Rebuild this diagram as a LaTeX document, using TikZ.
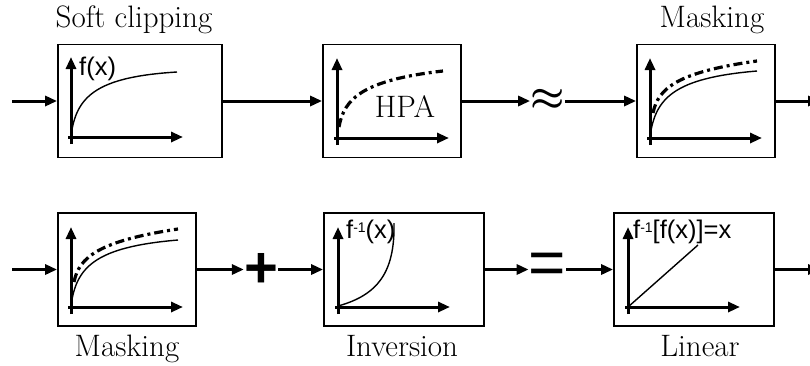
\documentclass[tikz,border=0pt]{standalone}
\usepackage{fontspec}
\usepackage{graphicx}
\newfontfamily\arialfont{Liberation Sans}
\usetikzlibrary{arrows.meta}
\tikzset{
  blockbox/.style={draw, line width=1.8pt, minimum height=113pt, inner sep=0pt},
  conn/.style={line width=3pt, -{Triangle[length=12pt,width=10pt]}},
  axisline/.style={line width=3pt, -{Triangle[length=12pt,width=10pt]}},
  softcurve/.style={line width=1.4pt},
  dashcurve/.style={line width=3.2pt, dash pattern=on 9pt off 4pt on 3pt off 4pt},
  lbl/.style={font=\fontsize{31}{36}\selectfont, anchor=base, inner sep=0pt},
  sanslbl/.style={font=\arialfont\fontsize{25.5}{30}\selectfont, anchor=base west, inner sep=0pt},
  plotaxes/.pic={
    \draw[axisline] (0,7) -- (0,-80);
    \draw[axisline] (-3,0) -- (112,0);
  }
}
\begin{document}
\begin{tikzpicture}[x=1pt,y=-1pt]
\useasboundingbox (0,0) rectangle (810,365);
% ---- top row boxes
\node[blockbox, minimum width=164pt] (b1) at (140,101) {};
\node[blockbox, minimum width=138pt] (b2) at (392,101) {};
\node[blockbox, minimum width=138pt] (b3) at (706,101) {};
% ---- bottom row boxes
\node[blockbox, minimum width=138pt] (b4) at (127,269.5) {};
\node[blockbox, minimum width=160pt] (b5) at (404,269.5) {};
\node[blockbox, minimum width=160pt] (b6) at (694,269.5) {};
% ---- labels
\node[lbl] (l1) at (134,27) {Soft clipping};
\node[lbl] (l3) at (712,27) {Masking};
\node[lbl] (l4) at (127,356) {Masking};
\node[lbl] (l5) at (402,356) {Inversion};
\node[lbl] (l6) at (700,356) {Linear};
\node[lbl] (hpa) at (405,117) {HPA};
% ---- symbols
\node[inner sep=0pt, font=\fontsize{20}{20}\selectfont\boldmath] (approx) at (547.5,100) {\scalebox{1.85}{$\approx$}};
\node[inner sep=0pt, font=\arialfont\bfseries\fontsize{58}{58}\selectfont] (plus) at (261,270) {+};
\node[inner sep=0pt, font=\arialfont\fontsize{64}{64}\selectfont] (eq) at (547.5,269) {=};
\coordinate (in1) at (12,101);
\coordinate (in2) at (12,269.5);
\coordinate (out1) at (820,101);
\coordinate (out2) at (820,269.5);
% ---- connectors
\draw[conn] (in1) -- (b1.west);
\draw[conn] (b1.east) -- (b2.west);
\draw[conn] (b2.east) -- (b2.east -| approx.west);
\draw[conn] (approx.east |- b3.west) -- (b3.west);
\draw[conn] (b3.east) -- (out1);
\draw[conn] (in2) -- (b4.west);
\draw[conn] (b4.east) -- (b4.east -| plus.west);
\draw[conn] (plus.east |- b5.west) -- (b5.west);
\draw[conn] (b5.east) -- (b5.east -| eq.west);
\draw[conn] (eq.east |- b6.west) -- (b6.west);
\draw[conn] (b6.east) -- (out2);
% ---- plots
\pic at (71,137) {plotaxes};
\draw[softcurve] (71,136) .. controls (76,97) and (95,77) .. (177,72);
\node[sanslbl] (fx) at (79,75) {f(x)};

\pic at (337,138) {plotaxes};
\draw[dashcurve] (339,127) .. controls (344,98) and (364,80) .. (443,71);

\pic at (650,138) {plotaxes};
\draw[dashcurve] (653,113) .. controls (658,88) and (678,72) .. (757,61);
\draw[softcurve] (650,137) .. controls (655,98) and (674,78) .. (757,71);

\pic at (71,307) {plotaxes};
\draw[dashcurve] (74,282) .. controls (79,257) and (99,241) .. (178,229);
\draw[softcurve] (71,306) .. controls (76,267) and (95,247) .. (178,240);

\pic at (338,307) {plotaxes};
\draw[softcurve] (338,306) .. controls (378,295) and (395,272) .. (394,223);
\node[sanslbl] (finv) at (346,238) {f\raisebox{6pt}{\fontsize{14}{14}\selectfont -1}(x)};

\pic at (628,307) {plotaxes};
\draw[softcurve] (628,307) -- (698,245);
\node[sanslbl] (flin) at (633,238) {f\raisebox{6pt}{\fontsize{14}{14}\selectfont -1}[f(x)]=x};
\end{tikzpicture}
\end{document}
